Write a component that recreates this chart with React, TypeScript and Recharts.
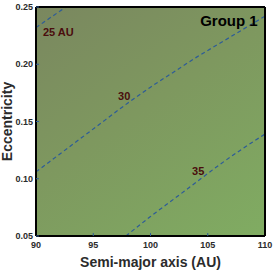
import React from 'react';
import {
  ComposedChart,
  XAxis,
  YAxis,
  Line,
  ReferenceArea,
  ReferenceDot,
} from 'recharts';

// Contour levels (AU) and their dashed lines: semi-major axis a vs eccentricity e
const contour25 = [
  { a: 90, e: 0.232 },
  { a: 91.3, e: 0.241 },
  { a: 92.6, e: 0.25 },
];
const contour30 = [
  { a: 90, e: 0.106 },
  { a: 92, e: 0.121 },
  { a: 94, e: 0.136 },
  { a: 96, e: 0.151 },
  { a: 98, e: 0.166 },
  { a: 100, e: 0.18 },
  { a: 102, e: 0.193 },
  { a: 104, e: 0.206 },
  { a: 106, e: 0.218 },
  { a: 108, e: 0.23 },
  { a: 110, e: 0.242 },
];
const contour35 = [
  { a: 97.85, e: 0.05 },
  { a: 100, e: 0.067 },
  { a: 102, e: 0.082 },
  { a: 104, e: 0.097 },
  { a: 106, e: 0.112 },
  { a: 108, e: 0.126 },
  { a: 110, e: 0.139 },
];

// Contour labels
const contourLabels = [
  { a: 91.95, e: 0.2285, text: '25 AU' },
  { a: 97.7, e: 0.1723, text: '30' },
  { a: 104.17, e: 0.1068, text: '35' },
];

const xTicks = [90, 95, 100, 105, 110];
const yTicks = [0.05, 0.1, 0.15, 0.2, 0.25];
const xDomain = [90, 110];
const yDomain = [0.05, 0.25];
const panelTitle = { a: 106.85, e: 0.2378, text: 'Group 1' };

const FONT = '"Liberation Sans", Arial, Helvetica, sans-serif';
const lineColor = '#2d5c98';
const tickColor = '#2d5c98';

export default function App() {
  return (
    <div style={{ position: 'absolute', left: 0, top: 0, fontFamily: FONT }}>
      <ComposedChart
        width={274}
        height={271}
        margin={{ top: 0, right: 0, left: 0, bottom: 0 }}
      >
        <defs>
          <linearGradient id="bgGrad" x1="0" y1="0" x2="0.776" y2="1.151">
            <stop offset="0" stopColor="#7a875f" />
            <stop offset="0.45" stopColor="#7e985f" />
            <stop offset="1" stopColor="#80ac62" />
          </linearGradient>
        </defs>
        <XAxis
          xAxisId={0}
          type="number"
          dataKey="a"
          domain={xDomain}
          ticks={xTicks}
          allowDataOverflow
          height={35}
          tickSize={-3}
          tickMargin={9}
          tickLine={{ stroke: tickColor, strokeWidth: 1 }}
          axisLine={{ stroke: '#000', strokeWidth: 2 }}
          tick={{ fill: '#2b2b2b', fontSize: 9, fontWeight: 'bold', fontFamily: FONT }}
          tickFormatter={(v: number) => String(v)}
          label={{
            value: 'Semi-major axis (AU)',
            position: 'insideBottom',
            offset: 4,
            fill: '#2b2b2b',
            fontSize: 14,
            fontWeight: 'bold',
            fontFamily: FONT,
          }}
        />
        <XAxis
          xAxisId="top"
          orientation="top"
          type="number"
          dataKey="a"
          domain={xDomain}
          ticks={xTicks}
          allowDataOverflow
          height={7}
          tickSize={-3}
          tick={false}
          tickLine={{ stroke: tickColor, strokeWidth: 1 }}
          axisLine={{ stroke: '#000', strokeWidth: 2 }}
        />
        <YAxis
          yAxisId={0}
          type="number"
          domain={yDomain}
          ticks={yTicks}
          allowDataOverflow
          width={36}
          tickSize={-3}
          tickMargin={6}
          tickLine={{ stroke: tickColor, strokeWidth: 1 }}
          axisLine={{ stroke: '#000', strokeWidth: 2 }}
          tick={{ fill: '#2b2b2b', fontSize: 9, fontWeight: 'bold', fontFamily: FONT }}
          tickFormatter={(v: number) => v.toFixed(2)}
          label={{
            value: 'Eccentricity',
            angle: -90,
            position: 'insideLeft',
            offset: 7,
            fill: '#2b2b2b',
            fontSize: 14,
            fontWeight: 'bold',
            fontFamily: FONT,
            style: { textAnchor: 'middle' },
          }}
        />
        <YAxis
          yAxisId="right"
          orientation="right"
          type="number"
          domain={yDomain}
          ticks={yTicks}
          allowDataOverflow
          width={9}
          tickSize={-3}
          tick={false}
          tickLine={{ stroke: tickColor, strokeWidth: 1 }}
          axisLine={{ stroke: '#000', strokeWidth: 2 }}
        />
        <ReferenceArea
          x1={xDomain[0]}
          x2={xDomain[1]}
          y1={yDomain[0]}
          y2={yDomain[1]}
          fill="url(#bgGrad)"
          fillOpacity={1}
          stroke="none"
        />
        {[contour25, contour30, contour35].map((d, i) => (
          <Line
            key={i}
            data={d}
            dataKey="e"
            type="monotone"
            stroke={lineColor}
            strokeWidth={1.2}
            strokeDasharray="4 3"
            dot={false}
            activeDot={false}
            isAnimationActive={false}
          />
        ))}
        {contourLabels.map((l) => (
          <ReferenceDot
            key={l.text}
            x={l.a}
            y={l.e}
            r={0}
            fill="none"
            stroke="none"
            label={{
              value: l.text,
              position: 'center',
              fill: '#4a0d0d',
              fontSize: 11,
              fontWeight: 'bold',
              fontFamily: FONT,
            }}
          />
        ))}
        <ReferenceDot
          x={panelTitle.a}
          y={panelTitle.e}
          r={0}
          fill="none"
          stroke="none"
          label={{
            value: panelTitle.text,
            position: 'center',
            fill: '#000',
            fontSize: 15,
            fontWeight: 'bold',
            fontFamily: FONT,
          }}
        />
      </ComposedChart>
    </div>
  );
}
